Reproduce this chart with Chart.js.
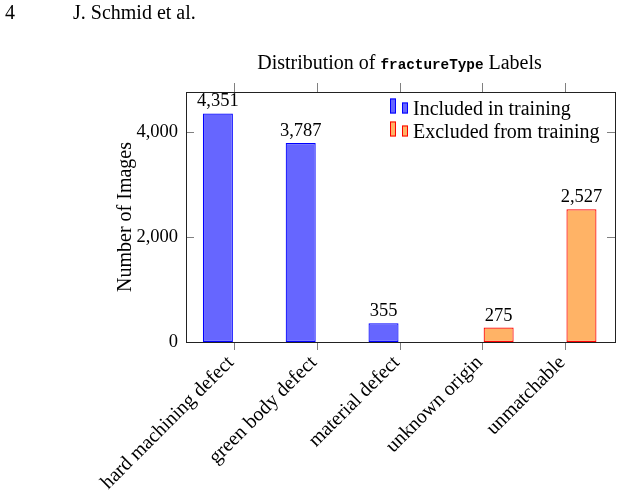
<!DOCTYPE html>
<html>
<head>
<meta charset="utf-8">
<script src="https://cdn.jsdelivr.net/npm/chart.js@4/dist/chart.umd.min.js"></script>
<style>
  body { margin: 0; background: #fff; }
</style>
</head>
<body>
<canvas id="chart" width="622" height="491"></canvas>
<script>
const categories = ['hard machining defect', 'green body defect', 'material defect', 'unknown origin', 'unmatchable']
const included = [4351, 3787, 355, null, null]
const excluded = [null, null, null, 275, 2527]
const seriesNames = ['Included in training', 'Excluded from training']
const yTicks = [0, 2000, 4000]
const yMax = 4760

const serif = '"Liberation Serif", serif'
const fmt = v => v.toLocaleString('en-US')

// frame, pgfplots style tick marks, titles, value labels and legend
const decorations = {
  id: 'decorations',
  afterDraw (chart) {
    const ctx = chart.ctx
    const a = chart.chartArea
    const xs = chart.scales.x
    const ys = chart.scales.y
    ctx.save()

    ctx.strokeStyle = '#808080'
    ctx.lineWidth = 1
    ctx.beginPath()
    xs.ticks.forEach(t => {
      const px = Math.round(xs.getPixelForValue(t.value)) + 0.5
      ctx.moveTo(px, a.top); ctx.lineTo(px, a.top - 9)
      ctx.moveTo(px, a.bottom); ctx.lineTo(px, a.bottom + 8)
    })
    ys.ticks.forEach(t => {
      const py = Math.round(ys.getPixelForValue(t.value)) + 0.5
      ctx.moveTo(a.left, py); ctx.lineTo(a.left + 8, py)
      ctx.moveTo(a.right, py); ctx.lineTo(a.right - 8, py)
    })
    ctx.stroke()

    ctx.strokeStyle = '#222'
    ctx.strokeRect(Math.round(a.left) + 0.5, Math.round(a.top) + 0.5, Math.round(a.right - a.left), Math.round(a.bottom - a.top))

    ctx.fillStyle = '#000'
    ctx.font = '20px ' + serif
    ctx.textBaseline = 'alphabetic'

    // running header
    ctx.textAlign = 'left'
    ctx.fillText('4', 5, 19)
    ctx.fillText('J. Schmid et al.', 73, 19)

    // title with typewriter part
    const parts = [
      ['Distribution of ', '20px ' + serif],
      ['fractureType', 'bold 14.3px "Liberation Mono", monospace'],
      [' Labels', '20px ' + serif]
    ]
    let total = 0
    parts.forEach(p => { ctx.font = p[1]; total += ctx.measureText(p[0]).width })
    let tx = 399.5 - total / 2
    parts.forEach(p => {
      ctx.font = p[1]
      ctx.fillText(p[0], tx, 69)
      tx += ctx.measureText(p[0]).width
    })

    // value labels
    ctx.font = '18.5px ' + serif
    ctx.textAlign = 'center'
    chart.data.datasets.forEach((ds, i) => {
      chart.getDatasetMeta(i).data.forEach((bar, j) => {
        if (ds.data[j] == null) return
        ctx.fillText(fmt(ds.data[j]), bar.x, bar.y - 7)
      })
    })

    // legend (ybar legend image: two bars)
    ctx.font = '20px ' + serif
    ctx.textAlign = 'left'
    const lx = 390
    const rows = [115, 138]
    chart.data.datasets.forEach((ds, i) => {
      const base = rows[i] - 1.5
      ctx.fillStyle = ds.backgroundColor
      ctx.strokeStyle = ds.borderColor
      ctx.fillRect(lx, base - 15, 6, 15)
      ctx.strokeRect(lx + 0.5, base - 14.5, 5, 14)
      ctx.fillRect(lx + 12, base - 11, 6, 11)
      ctx.strokeRect(lx + 12.5, base - 10.5, 5, 10)
      ctx.fillStyle = '#000'
      ctx.fillText(ds.label, lx + 23, rows[i])
    })

    ctx.restore()
  }
}

new Chart(document.getElementById('chart').getContext('2d'), {
  type: 'bar',
  data: {
    labels: categories.map((c, i) => i),
    datasets: [{
      label: seriesNames[0],
      data: included,
      backgroundColor: 'rgb(102, 102, 255)',
      borderColor: 'rgb(0, 0, 255)',
      borderWidth: 1.2,
      borderSkipped: false
    }, {
      label: seriesNames[1],
      data: excluded,
      backgroundColor: 'rgb(255, 179, 102)',
      borderColor: 'rgb(255, 0, 0)',
      borderWidth: 1.2,
      borderSkipped: false
    }]
  },
  options: {
    responsive: false,
    animation: false,
    categoryPercentage: 0.78,
    barPercentage: 0.93,
    layout: { padding: { left: 0, right: 7, top: 92, bottom: 0 } },
    plugins: {
      legend: { display: false },
      tooltip: { enabled: false }
    },
    scales: {
      x: {
        type: 'linear',
        offset: false,
        min: -0.58,
        max: 4.6,
        grid: { display: false, drawTicks: true, tickLength: 8, offset: false },
        border: { display: false },
        ticks: {
          autoSkip: false,
          minRotation: 45,
          maxRotation: 45,
          padding: 1,
          labelOffset: -3,
          color: '#000',
          font: { family: serif, size: 20 },
          callback: v => categories[v]
        },
        afterBuildTicks: s => { s.ticks = categories.map((c, i) => ({ value: i })) },
        afterFit: s => { s.height = 149 }
      },
      y: {
        min: 0,
        max: yMax,
        grid: { display: false, drawTicks: false },
        border: { display: false },
        ticks: {
          padding: 8,
          color: '#000',
          font: { family: serif, size: 18.5 },
          callback: v => fmt(v)
        },
        afterBuildTicks: s => { s.ticks = yTicks.map(v => ({ value: v })) },
        title: {
          display: true,
          text: 'Number of Images',
          color: '#000',
          font: { family: serif, size: 20 },
          padding: { top: 114, bottom: 0 }
        },
        afterFit: s => { s.width = 186 }
      }
    }
  },
  plugins: [decorations]
})
</script>
</body>
</html>
